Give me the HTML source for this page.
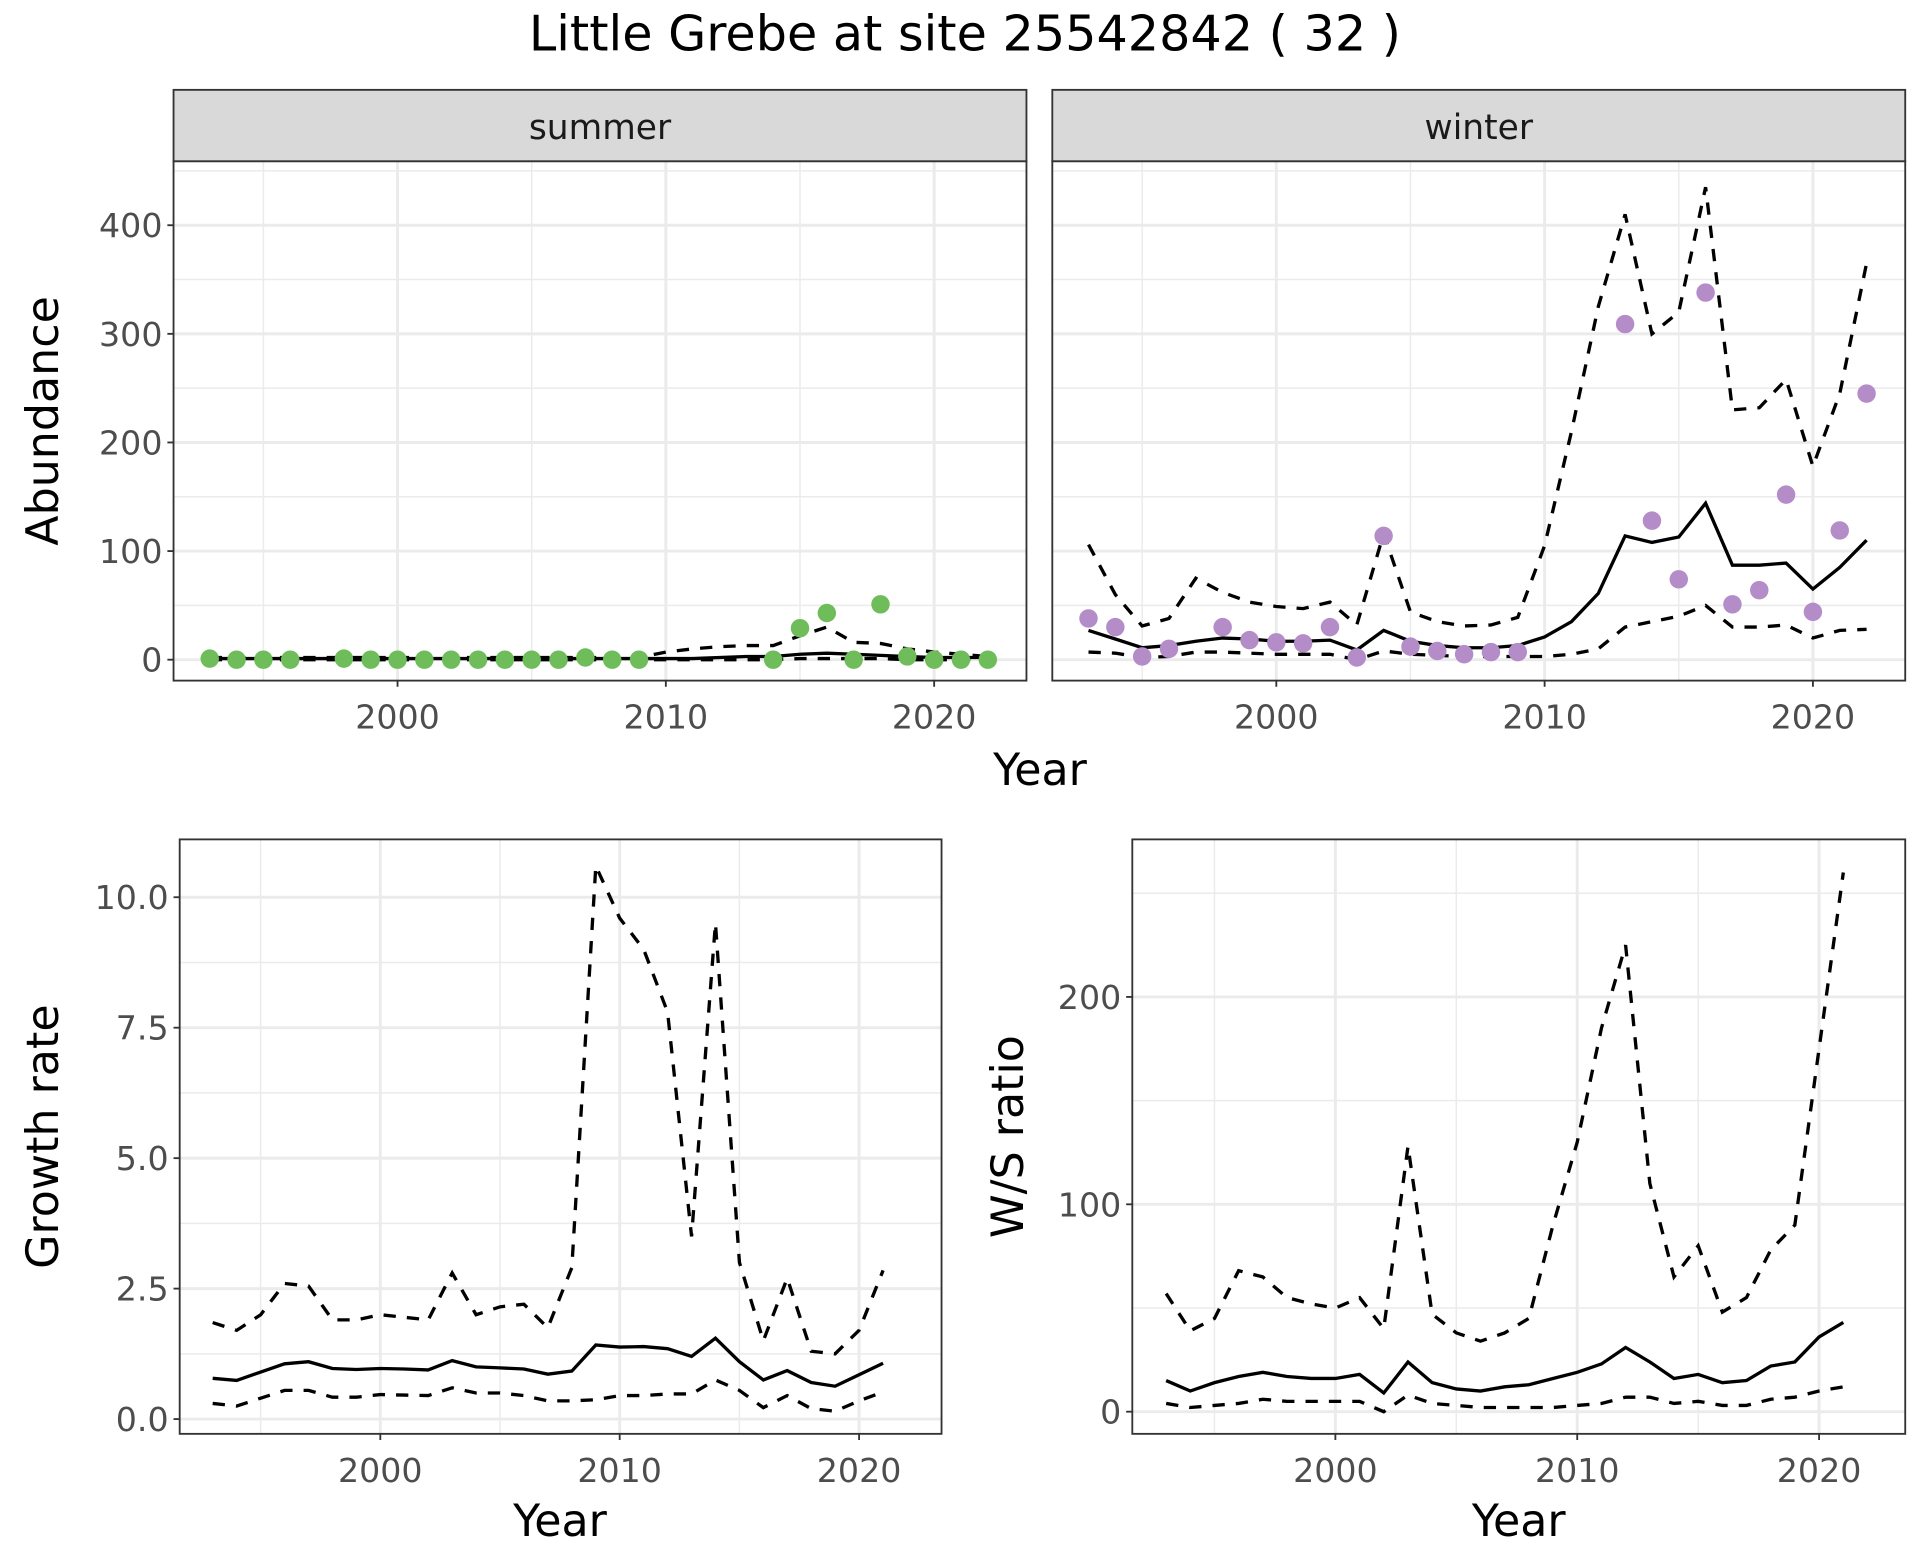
<!DOCTYPE html>
<html><head><meta charset="utf-8"><style>html,body{margin:0;padding:0;background:#fff}svg{display:block}</style></head>
<body>
<svg id="chart" width="1920" height="1560" viewBox="0 0 1560 1267.5" xmlns="http://www.w3.org/2000/svg" font-family="'DejaVu Sans','Liberation Sans',sans-serif">
<text x="784" y="41" font-size="40" text-anchor="middle" fill="#000">Little Grebe at site 25542842 ( 32 )</text>
</svg>
<script>
const sYears=[1993,1994,1995,1996,1998,1999,2000,2001,2002,2003,2004,2005,2006,2007,2008,2009,2014,2015,2016,2017,2018,2019,2020,2021,2022];
const sCounts=[1,0,0,0,1,0,0,0,0,0,0,0,0,2,0,0,0,29,43,0,51,3,0,0,0];
const lineYears=[1993,1994,1995,1996,1997,1998,1999,2000,2001,2002,2003,2004,2005,2006,2007,2008,2009,2010,2011,2012,2013,2014,2015,2016,2017,2018,2019,2020,2021,2022];
const sMean=[1,1,1,1,1,1,1,1,1,1,1,1,1,1,1,1,1,1,1,2,3,3,5,6,5,4,3,2,2,2];
const sUpper=[2,2,2,2,2,2,2,2,2,2,2,2,2,2,2,2,2,7,10,12,13,13,22,30,16,15,10,7,5,3];
const sLower=[0,0,0,0,0,0,0,0,0,0,0,0,0,0,0,0,0,0,0,0,0,0,1,1,1,1,0,0,0,0];
const wYears=[1993,1994,1995,1996,1998,1999,2000,2001,2002,2003,2004,2005,2006,2007,2008,2009,2013,2014,2015,2016,2017,2018,2019,2020,2021,2022];
const wCounts=[38,30,3,10,30,18,16,15,30,2,114,12,8,5,7,7,309,128,74,338,51,64,152,44,119,245];
const wMean=[27,19,11,13,17,20,19,17,17,18,9,27,17,13,11,11,13,21,35,61,114,108,113,144,87,87,89,65,85,110];
const wUpper=[106,60,31,38,75,62,53,49,47,53,32,116,44,35,31,32,39,105,210,325,410,300,320,435,230,232,258,178,245,365];
const wLower=[7,6,2,3,7,7,6,5,5,5,0,8,5,4,3,3,3,3,5,10,30,35,40,50,30,30,32,20,27,28];
const gYears=[1993,1994,1995,1996,1997,1998,1999,2000,2001,2002,2003,2004,2005,2006,2007,2008,2009,2010,2011,2012,2013,2014,2015,2016,2017,2018,2019,2020,2021];
const gMean=[0.78,0.74,0.9,1.06,1.1,0.97,0.95,0.97,0.96,0.94,1.12,1.0,0.98,0.96,0.86,0.92,1.42,1.38,1.39,1.35,1.2,1.55,1.1,0.75,0.93,0.7,0.63,0.85,1.07];
const gUpper=[1.85,1.7,2.0,2.6,2.55,1.9,1.9,2.0,1.95,1.9,2.8,2.0,2.15,2.2,1.75,2.9,10.6,9.6,9.0,7.8,3.5,9.5,3.0,1.5,2.7,1.3,1.25,1.7,2.85];
const gLower=[0.3,0.25,0.4,0.55,0.55,0.42,0.42,0.47,0.46,0.45,0.6,0.5,0.5,0.45,0.35,0.35,0.37,0.45,0.45,0.48,0.48,0.75,0.55,0.22,0.45,0.2,0.15,0.35,0.52];
const rMean=[15,10,14,17,19,17,16,16,18,9,24,14,11,10,12,13,16,19,23,31,24,16,18,14,15,22,24,36,43];
const rUpper=[57,39,45,68,65,55,52,50,55,40,128,47,38,34,38,45,90,130,185,225,110,65,80,48,55,78,90,175,260];
const rLower=[4,2,3,4,6,5,5,5,5,0,8,4,3,2,2,2,2,3,4,7,7,4,5,3,3,6,7,10,12];
const absTicks=[0,100,200,300,400];
const grTicks=[0,2.5,5,7.5,10];
const grLabels=["0.0","2.5","5.0","7.5","10.0"];
const wsTicks=[0,100,200];
const yearTicks=[2000,2010,2020];

const TICK=27, TITLE=36, STRIP=28;
const svg=document.getElementById('chart');
const NS='http://www.w3.org/2000/svg';
function mk(tag,attrs,parent){const e=document.createElementNS(NS,tag);for(const k in attrs)e.setAttribute(k,attrs[k]);(parent||svg).appendChild(e);return e;}
function txt(s,attrs,parent){const e=mk('text',attrs,parent);e.textContent=s;return e;}

function panel(p){
  const g=mk('g',{});
  
  
  const sx=v=>p.x0+(v-p.xa)*(p.x1-p.x0)/(p.xb-p.xa);
  const sy=v=>p.y0+(v-p.ya)*(p.y1-p.y0)/(p.yb-p.ya);
  mk('rect',{x:p.L,y:p.T,width:p.R-p.L,height:p.B-p.T,fill:'#fff'},g);
  for(let i=0;i<p.yt.length;i++){const m=(i<p.yt.length-1)?(p.yt[i]+p.yt[i+1])/2:p.yt[i]+(p.yt[1]-p.yt[0])/2;const yy=sy(m);if(yy>p.T&&yy<p.B)mk('line',{x1:p.L,x2:p.R,y1:yy,y2:yy,stroke:'#ebebeb','stroke-width':1.2},g);}
  for(const v of [1995,2005,2015]){const xx=sx(v);if(xx>p.L&&xx<p.R)mk('line',{x1:xx,x2:xx,y1:p.T,y2:p.B,stroke:'#ebebeb','stroke-width':1.2},g);}
  for(const v of p.yt){const yy=sy(v);mk('line',{x1:p.L,x2:p.R,y1:yy,y2:yy,stroke:'#ebebeb','stroke-width':2.4},g);}
  for(const v of yearTicks){const xx=sx(v);mk('line',{x1:xx,x2:xx,y1:p.T,y2:p.B,stroke:'#ebebeb','stroke-width':2.4},g);}
  const line=(xs,ys,dash,nm)=>{const pth=mk('path',{d:xs.map((x,i)=>(i?'L':'M')+sx(x).toFixed(1)+','+sy(ys[i]).toFixed(1)).join(''),fill:'none',stroke:'#000','stroke-width':2.7,'stroke-dasharray':dash?'10 9':'none'},g);
    
    };
  line(p.lx,p.upper,true,'upper-ci-line');line(p.lx,p.lower,true,'lower-ci-line');line(p.lx,p.mean,false,'mean-line');
  if(p.px){p.px.forEach((x,i)=>{const c=mk('circle',{cx:sx(x),cy:sy(p.py[i]),r:7.5,fill:p.col},g);
    
    });}
  mk('rect',{x:p.L,y:p.T,width:p.R-p.L,height:p.B-p.T,fill:'none',stroke:'#333','stroke-width':1.5},g);
  if(p.yaxis){p.yt.forEach((v,i)=>{const yy=sy(v);mk('line',{x1:p.L-5,x2:p.L,y1:yy,y2:yy,stroke:'#333','stroke-width':1.5},g);
    const t=txt(p.yl?p.yl[i]:String(v),{x:p.L-9,y:yy+TICK*0.36,'font-size':TICK,'text-anchor':'end',fill:'#4d4d4d'},g);
    
    }); }
  for(const v of yearTicks){const xx=sx(v);mk('line',{x1:xx,x2:xx,y1:p.B,y2:p.B+5,stroke:'#333','stroke-width':1.5},g);
    const t=txt(String(v),{x:xx,y:p.B+39,'font-size':TICK,'text-anchor':'middle',fill:'#4d4d4d'},g);
    
    }
  if(p.strip){mk('rect',{x:p.L,y:73,width:p.R-p.L,height:p.T-73,fill:'#d9d9d9',stroke:'#333','stroke-width':1.5},g);
    const t=txt(p.strip,{x:(p.L+p.R)/2,y:113,'font-size':STRIP,'text-anchor':'middle',fill:'#1a1a1a'},g);
    
    }
  if(p.ytitle){const t=txt(p.ytitle,{x:0,y:0,'font-size':TITLE,'text-anchor':'middle',fill:'#000',transform:`translate(${p.ytx},${(p.T+p.B)/2}) rotate(-90)`},g);
    
    }
  if(p.xtitle){const t=txt('Year',{x:p.xtx,y:p.xty,'font-size':TITLE,'text-anchor':'middle',fill:'#000'},g);
    
    }
}
panel({name:'summer-panel',L:141,R:834,T:131,B:553,xa:2000,xb:2020,x0:323,x1:759,ya:0,yb:400,y0:536,y1:183,yt:absTicks,yaxis:true,strip:'summer',lx:lineYears,mean:sMean,upper:sUpper,lower:sLower,px:sYears,py:sCounts,col:'#6ebd5a',ytitle:'Abundance',ytx:47});
panel({name:'winter-panel',L:855,R:1548,T:131,B:553,xa:2000,xb:2020,x0:1037,x1:1473,ya:0,yb:400,y0:536,y1:183,yt:absTicks,yaxis:false,strip:'winter',lx:lineYears,mean:wMean,upper:wUpper,lower:wLower,px:wYears,py:wCounts,col:'#b48cc8',xtitle:true,xtx:845,xty:638});
panel({name:'growth-rate-panel',L:146,R:765,T:682,B:1165,xa:2000,xb:2020,x0:309,x1:698,ya:0,yb:10,y0:1153,y1:729,yt:grTicks,yl:grLabels,yaxis:true,lx:gYears,mean:gMean,upper:gUpper,lower:gLower,ytitle:'Growth rate',ytx:47,xtitle:true,xtx:455,xty:1248});
panel({name:'ws-ratio-panel',L:920,R:1548,T:682,B:1165,xa:2000,xb:2020,x0:1085,x1:1478,ya:0,yb:200,y0:1147,y1:810,yt:wsTicks,yaxis:true,lx:gYears,mean:rMean,upper:rUpper,lower:rLower,ytitle:'W/S ratio',ytx:831,xtitle:true,xtx:1234,xty:1248});
</script>
</body></html>
